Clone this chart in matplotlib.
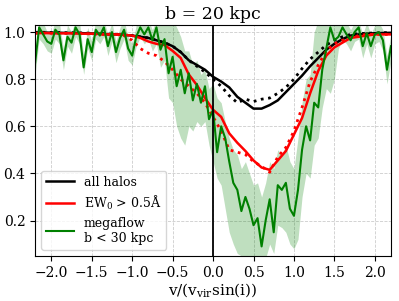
import numpy as np
import matplotlib
matplotlib.use("Agg")
import matplotlib.pyplot as plt

plt.rcParams['font.family'] = ['DejaVu Serif']
plt.rcParams['mathtext.fontset'] = 'dejavuserif'

# velocity grids
v_coarse = np.round(np.arange(-2.2, 2.2001, 0.1), 2)
v_fine = np.round(np.arange(-2.2, 2.2001, 0.05), 2)

all_halos = [0.998, 0.998, 0.997, 0.997, 0.996, 0.996, 0.995, 0.994, 0.993, 0.99,
             0.99, 0.988, 0.985, 0.98, 0.975, 0.965, 0.955, 0.94, 0.915, 0.88,
             0.86, 0.84, 0.81, 0.79, 0.765, 0.725, 0.70, 0.675, 0.675, 0.69,
             0.71, 0.745, 0.78, 0.815, 0.855, 0.89, 0.925, 0.95, 0.97, 0.985,
             0.99, 0.993, 0.995, 0.996, 0.997]
all_halos_dot = [0.999, 0.999, 0.998, 0.998, 0.997, 0.997, 0.996, 0.995, 0.994, 0.992,
                 0.99, 0.988, 0.985, 0.98, 0.975, 0.965, 0.955, 0.94, 0.915, 0.88,
                 0.855, 0.83, 0.80, 0.77, 0.73, 0.70, 0.715, 0.705, 0.715, 0.72,
                 0.74, 0.765, 0.80, 0.845, 0.885, 0.915, 0.945, 0.965, 0.98, 0.99,
                 0.993, 0.995, 0.996, 0.997, 0.998]
ew_strong = [0.995, 0.996, 0.995, 0.994, 0.995, 0.994, 0.993, 0.993, 0.992, 0.99,
             0.99, 0.988, 0.985, 0.975, 0.96, 0.95, 0.945, 0.92, 0.89, 0.82,
             0.775, 0.72, 0.67, 0.64, 0.57, 0.53, 0.495, 0.455, 0.425, 0.415,
             0.455, 0.495, 0.565, 0.635, 0.74, 0.835, 0.90, 0.935, 0.955, 0.975,
             0.98, 0.985, 0.99, 0.99, 0.99]
ew_strong_dot = [0.995, 0.995, 0.995, 0.994, 0.994, 0.993, 0.993, 0.992, 0.99, 0.99,
                 0.99, 0.985, 0.965, 0.93, 0.91, 0.90, 0.875, 0.84, 0.80, 0.77,
                 0.74, 0.70, 0.64, 0.58, 0.50, 0.49, 0.48, 0.45, 0.43, 0.405,
                 0.47, 0.51, 0.58, 0.68, 0.79, 0.86, 0.92, 0.95, 0.965, 0.975,
                 0.985, 0.99, 0.99, 0.99, 0.99]

megaflow = [0.87, 1.02, 0.99, 0.96, 0.95, 1.01, 0.99, 0.88, 0.98, 0.955,
            1.02, 0.99, 0.85, 0.97, 0.915, 1.01, 0.985, 1.02, 0.94, 1.0,
            0.915, 0.975, 1.01, 0.93, 0.90, 0.98, 1.02, 0.99, 1.02, 0.965,
            1.02, 0.925, 0.97, 0.825, 0.895, 0.77, 0.84, 0.74, 0.825, 0.71,
            0.78, 0.70, 0.77, 0.63, 0.67, 0.49, 0.60, 0.55, 0.45, 0.36,
            0.33, 0.24, 0.30, 0.25, 0.18, 0.21, 0.09, 0.20, 0.29, 0.15,
            0.35, 0.33, 0.36, 0.25, 0.22, 0.33, 0.50, 0.60, 0.54, 0.70,
            0.68, 0.84, 0.93, 1.02, 0.965, 0.98, 1.02, 0.99, 0.965, 1.0,
            1.02, 0.94, 0.995, 0.94, 0.99, 1.0, 0.965, 0.84, 0.94]
megaflow_lo = [0.82, 0.97, 0.95, 0.92, 0.91, 0.97, 0.95, 0.84, 0.94, 0.91,
               0.98, 0.95, 0.82, 0.93, 0.88, 0.97, 0.95, 0.98, 0.90, 0.96,
               0.87, 0.93, 0.97, 0.88, 0.86, 0.94, 0.98, 0.95, 0.97, 0.92,
               0.95, 0.85, 0.88, 0.72, 0.70, 0.60, 0.55, 0.52, 0.60, 0.58,
               0.62, 0.60, 0.62, 0.52, 0.45, 0.38, 0.35, 0.25, 0.15, 0.10,
               0.06, 0.05, 0.04, 0.04, 0.03, 0.03, 0.02, 0.04, 0.10, 0.06,
               0.18, 0.17, 0.15, 0.10, 0.08, 0.12, 0.30, 0.40, 0.38, 0.52,
               0.55, 0.68, 0.76, 0.74, 0.80, 0.93, 0.97, 0.95, 0.92, 0.96,
               0.97, 0.89, 0.95, 0.89, 0.95, 0.96, 0.92, 0.78, 0.88]
megaflow_hi = [0.93, 1.05, 1.04, 1.0, 0.99, 1.05, 1.04, 0.93, 1.03, 1.0,
               1.05, 1.04, 0.90, 1.02, 0.96, 1.05, 1.03, 1.05, 0.99, 1.04,
               0.96, 1.02, 1.05, 0.98, 0.95, 1.03, 1.05, 1.04, 1.05, 1.01,
               1.05, 1.05, 1.05, 1.05, 1.05, 1.02, 0.98, 0.92, 0.92, 0.86,
               0.88, 0.82, 0.84, 0.76, 0.78, 0.72, 0.70, 0.62, 0.55, 0.50,
               0.48, 0.42, 0.45, 0.40, 0.35, 0.36, 0.30, 0.36, 0.45, 0.42,
               0.50, 0.48, 0.52, 0.45, 0.42, 0.55, 0.70, 0.80, 0.82, 1.0,
               1.05, 1.05, 1.05, 1.05, 1.05, 1.03, 1.05, 1.04, 1.01, 1.04,
               1.05, 0.99, 1.04, 0.99, 1.03, 1.04, 1.01, 0.90, 0.99]

fig = plt.figure(figsize=(3.99, 3.01), dpi=100)
ax = fig.add_axes([0.088, 0.15, 0.892, 0.767])

ax.grid(True, color='#cccccc', linestyle='--', linewidth=0.6)
ax.set_axisbelow(True)

ax.fill_between(v_fine, megaflow_lo, megaflow_hi, color='green', alpha=0.25, lw=0)
ax.plot(v_coarse, all_halos, color='black', lw=1.8, label='all halos')
ax.plot(v_coarse, all_halos_dot, color='black', lw=2, ls=':')
ax.plot(v_coarse, ew_strong, color='red', lw=1.8, label=r'EW$_0$ > 0.5Å')
ax.plot(v_coarse, ew_strong_dot, color='red', lw=2, ls=':')
ax.plot(v_fine, megaflow, color='green', lw=1.5, label='megaflow\nb < 30 kpc')
ax.axvline(0, color='black', lw=1.3)

ax.set_xlim(-2.2, 2.2)
ax.set_ylim(0.05, 1.03)
ax.set_xticks([-2.0, -1.5, -1.0, -0.5, 0.0, 0.5, 1.0, 1.5, 2.0])
ax.set_yticks([0.2, 0.4, 0.6, 0.8, 1.0])
ax.tick_params(labelsize=10)
ax.set_xlabel(r'v/(v$_{\rm vir}$sin(i))', fontsize=11, labelpad=1)
ax.set_title('b = 20 kpc', fontsize=12.5, pad=4)
ax.legend(loc='lower left', fontsize=9, handlelength=2.2, labelspacing=0.4)

fig.savefig('out.png', dpi=100)
